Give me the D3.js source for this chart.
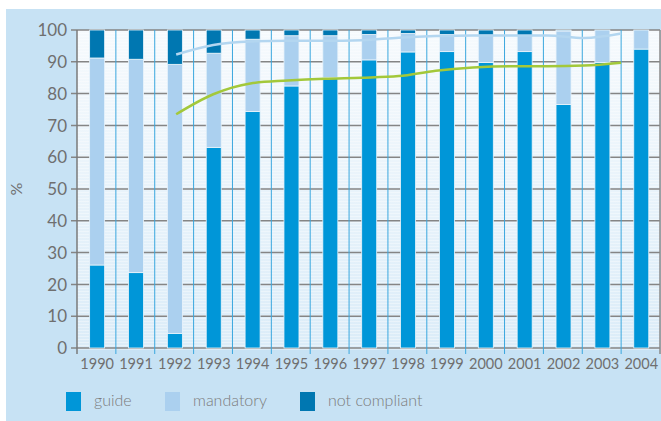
<!DOCTYPE html>
<html>
<head>
<meta charset="utf-8">
<script src="https://cdn.jsdelivr.net/npm/d3@7"></script>
<style>
  html, body { margin: 0; padding: 0; background: #fff; }
  svg { display: block; font-family: Lato, "Open Sans", sans-serif; }
</style>
</head>
<body>
<svg id="chart" width="661" height="421"></svg>
<script>
'use strict';

// chart data
var years = [1990, 1991, 1992, 1993, 1994, 1995, 1996, 1997, 1998, 1999, 2000, 2001, 2002, 2003, 2004],
	guide = [26.1, 23.7, 4.6, 63.1, 74.4, 82.4, 85.0, 90.6, 93.1, 93.2, 89.8, 93.2, 76.6, 89.8, 94.0],
	mandatory = [65.1, 67.1, 84.6, 29.6, 22.7, 15.8, 13.2, 8.0, 5.8, 5.4, 8.6, 5.1, 23.1, 10.2, 6.0],
	notCompliant = [8.8, 9.2, 10.8, 7.3, 2.9, 1.8, 1.8, 1.4, 1.1, 1.4, 1.6, 1.7, 0.3, 0, 0],
	lineYears = [1992, 1993, 1994, 1995, 1996, 1997, 1998, 1999, 2000, 2001, 2002, 2003, 2004],
	lineMandatory = [92.3, 95.3, 96.4, 96.6, 96.6, 96.8, 97.6, 98.1, 98.3, 98.3, 98.3, 97.5, 98.9],
	lineGuide = [73.5, 79.8, 83.2, 84.1, 84.7, 85.0, 85.5, 87.2, 88.2, 88.6, 88.6, 88.8, 89.7],
	yTicks = [0, 10, 20, 30, 40, 50, 60, 70, 80, 90, 100],
	seriesNames = ['guide', 'mandatory', 'not compliant'],
	seriesColors = ['#0096d8', '#abd0ef', '#0077b1'];

(function() {
	var svg = d3.select('#chart'),
		plotLeft = 77,
		plotRight = 660,
		plotTop = 30,
		plotBottom = 348,
		barWidth = 15,
		grey = '#6f6f6f';

	var x = d3.scaleBand().domain(years).range([plotLeft, plotRight]),
		y = d3.scaleLinear().domain([0, 100]).range([plotBottom, plotTop]),
		bw = x.bandwidth(),
		xl = d3.scalePoint().domain(lineYears)
			.range([x(lineYears[0]) + bw / 2 + 2, x(lineYears[lineYears.length - 1])]);

	//panel background
	svg.append('rect')
		.attr('x', 6).attr('y', 9)
		.attr('width', 655).attr('height', 412)
		.attr('fill', '#c7e2f4');

	//plot background gradient with faint stripes
	var defs = svg.append('defs');
	var grad = defs.append('linearGradient')
		.attr('id', 'plotbg').attr('x1', 0).attr('y1', 0).attr('x2', 0).attr('y2', 1);
	grad.append('stop').attr('offset', '0%').attr('stop-color', '#f6fafd');
	grad.append('stop').attr('offset', '100%').attr('stop-color', '#dbecf8');

	var pat = defs.append('pattern')
		.attr('id', 'stripes').attr('patternUnits', 'userSpaceOnUse')
		.attr('width', 8).attr('height', 3);
	pat.append('rect').attr('width', 8).attr('height', 1)
		.attr('fill', '#ffffff').attr('opacity', 0.35);

	svg.append('rect')
		.attr('x', plotLeft).attr('y', plotTop)
		.attr('width', plotRight - plotLeft).attr('height', plotBottom - plotTop + 2)
		.attr('fill', 'url(#plotbg)');
	svg.append('rect')
		.attr('x', plotLeft).attr('y', plotTop)
		.attr('width', plotRight - plotLeft).attr('height', plotBottom - plotTop + 2)
		.attr('fill', 'url(#stripes)');

	//horizontal grid
	svg.append('g')
		.selectAll('line')
		.data(yTicks)
		.join('line')
		.attr('x1', plotLeft - 6).attr('x2', plotRight)
		.attr('y1', function(d) { return y(d); })
		.attr('y2', function(d) { return y(d); })
		.attr('stroke', '#858585')
		.attr('stroke-width', 1.5);

	//category separators
	svg.append('g')
		.selectAll('line')
		.data(years.slice(1))
		.join('line')
		.attr('x1', function(d) { return x(d); })
		.attr('x2', function(d) { return x(d); })
		.attr('y1', plotTop).attr('y2', plotBottom + 6)
		.attr('stroke', '#3aa7de')
		.attr('stroke-width', 1);

	//axis edges
	svg.append('line')
		.attr('x1', plotLeft).attr('x2', plotLeft)
		.attr('y1', plotTop).attr('y2', plotBottom + 6)
		.attr('stroke', '#7a7a7a').attr('stroke-width', 1.5);
	svg.append('line')
		.attr('x1', plotRight).attr('x2', plotRight)
		.attr('y1', plotTop).attr('y2', plotBottom + 6)
		.attr('stroke', '#8a8a8a').attr('stroke-width', 1.5);

	//stacked bars
	var stackData = years.map(function(yr, i) {
		return { year: yr, guide: guide[i], mandatory: mandatory[i], nc: notCompliant[i] };
	});
	var stack = d3.stack().keys(['guide', 'mandatory', 'nc'])(stackData);

	svg.append('g')
		.selectAll('g')
		.data(stack)
		.join('g')
		.attr('fill', function(d, i) { return seriesColors[i]; })
		.selectAll('rect')
		.data(function(d) { return d; })
		.join('rect')
		.attr('x', function(d) { return x(d.data.year) + (bw - barWidth) / 2 + 0.7; })
		.attr('width', barWidth)
		.attr('y', function(d) { return y(d[1]); })
		.attr('height', function(d) { return Math.max(0, y(d[0]) - y(d[1])); })
		.attr('stroke', '#eaf4fb')
		.attr('stroke-width', function(d) { return d[1] - d[0] > 0 ? 0.8 : 0; });

	//lines
	var line = d3.line()
		.x(function(d, i) { return xl(lineYears[i]); })
		.y(function(d) { return y(d); })
		.curve(d3.curveMonotoneX);

	svg.append('path')
		.attr('d', line(lineMandatory))
		.attr('fill', 'none')
		.attr('stroke', '#b3d6f0')
		.attr('stroke-width', 2.5);
	svg.append('path')
		.attr('d', line(lineGuide))
		.attr('fill', 'none')
		.attr('stroke', '#a3c83a')
		.attr('stroke-width', 2.5);

	//y labels
	svg.append('g')
		.selectAll('text')
		.data(yTicks)
		.join('text')
		.attr('x', 67)
		.attr('y', function(d) { return y(d); })
		.attr('dy', '0.36em')
		.attr('text-anchor', 'end')
		.attr('font-size', 17)
		.attr('fill', grey)
		.text(function(d) { return d; });

	svg.append('text')
		.attr('transform', 'translate(22,189) rotate(-90)')
		.attr('text-anchor', 'middle')
		.attr('font-size', 16)
		.attr('fill', grey)
		.text('%');

	//x labels
	svg.append('g')
		.selectAll('text')
		.data(years)
		.join('text')
		.attr('x', function(d) { return x(d) + bw / 2 + 0.7; })
		.attr('y', 369)
		.attr('text-anchor', 'middle')
		.attr('font-size', 14.5)
		.attr('fill', grey)
		.text(function(d) { return d; });

	//legend
	var legendX = [66, 165, 300];
	var legend = svg.append('g')
		.selectAll('g')
		.data(seriesNames)
		.join('g')
		.attr('transform', function(d, i) { return 'translate(' + legendX[i] + ',392)'; });
	legend.append('rect')
		.attr('width', 15).attr('height', 19)
		.attr('fill', function(d, i) { return seriesColors[i]; });
	legend.append('text')
		.attr('x', 28).attr('y', 14)
		.attr('font-size', 16)
		.attr('font-weight', 300)
		.attr('fill', '#7b7b7b')
		.text(function(d) { return d; });
})();
</script>
</body>
</html>
